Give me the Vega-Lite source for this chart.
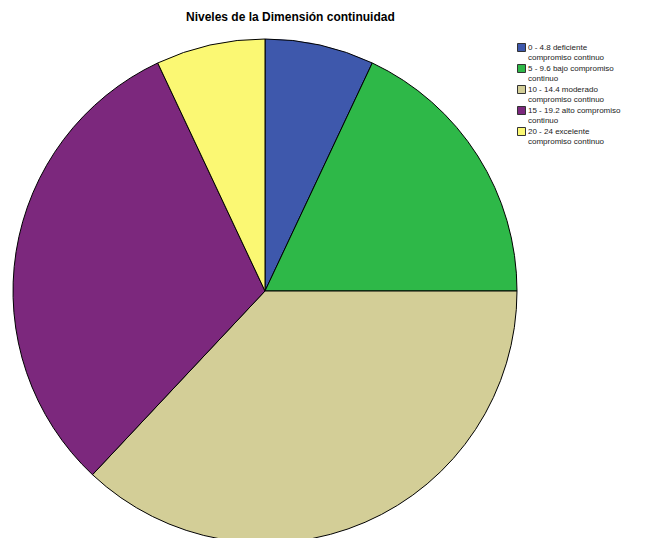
{
  "$schema": "https://vega.github.io/schema/vega-lite/v6.json",
  "width": 530,
  "height": 502,
  "autosize": "none",
  "padding": {"top": 40, "left": 0, "right": 133, "bottom": 0},
  "background": "white",
  "title": {
    "text": "Niveles de la Dimensión continuidad",
    "font": "Liberation Sans",
    "fontSize": 12,
    "fontWeight": "bold",
    "color": "#000000",
    "anchor": "start",
    "dx": 186,
    "offset": 13
  },
  "data": {
    "values": [
      {"categoria": "0 - 4.8 deficiente compromiso continuo", "porcentaje": 7, "orden": 1},
      {"categoria": "5 - 9.6 bajo compromiso continuo", "porcentaje": 18, "orden": 2},
      {"categoria": "10 - 14.4 moderado compromiso continuo", "porcentaje": 37, "orden": 3},
      {"categoria": "15 - 19.2 alto compromiso continuo", "porcentaje": 31, "orden": 4},
      {"categoria": "20 - 24 excelente compromiso continuo", "porcentaje": 7, "orden": 5}
    ]
  },
  "mark": {"type": "arc", "outerRadius": 252, "stroke": "#000000", "strokeWidth": 1},
  "encoding": {
    "theta": {"field": "porcentaje", "type": "quantitative", "stack": true},
    "order": {"field": "orden", "type": "quantitative"},
    "color": {
      "field": "categoria",
      "type": "nominal",
      "sort": null,
      "scale": {
        "domain": [
          "0 - 4.8 deficiente compromiso continuo",
          "5 - 9.6 bajo compromiso continuo",
          "10 - 14.4 moderado compromiso continuo",
          "15 - 19.2 alto compromiso continuo",
          "20 - 24 excelente compromiso continuo"
        ],
        "range": ["#3E58AC", "#2EB848", "#D3CE97", "#7C287D", "#FBF873"]
      },
      "legend": {
        "title": null,
        "orient": "none",
        "legendX": 517,
        "legendY": 3,
        "symbolType": "square",
        "symbolSize": 64,
        "symbolStrokeColor": "#333333",
        "symbolStrokeWidth": 1,
        "labelFont": "Liberation Sans",
        "labelFontSize": 8,
        "labelColor": "#222222",
        "labelLimit": 200,
        "labelOffset": 2,
        "rowPadding": 0,
        "labelExpr": "datum.label == '0 - 4.8 deficiente compromiso continuo' ? ['0 - 4.8 deficiente','compromiso continuo'] : datum.label == '5 - 9.6 bajo compromiso continuo' ? ['5 - 9.6 bajo compromiso','continuo'] : datum.label == '10 - 14.4 moderado compromiso continuo' ? ['10 - 14.4 moderado','compromiso continuo'] : datum.label == '15 - 19.2 alto compromiso continuo' ? ['15 - 19.2 alto compromiso','continuo'] : ['20 - 24 excelente','compromiso continuo']"
      }
    }
  },
  "config": {"view": {"stroke": null}}
}
